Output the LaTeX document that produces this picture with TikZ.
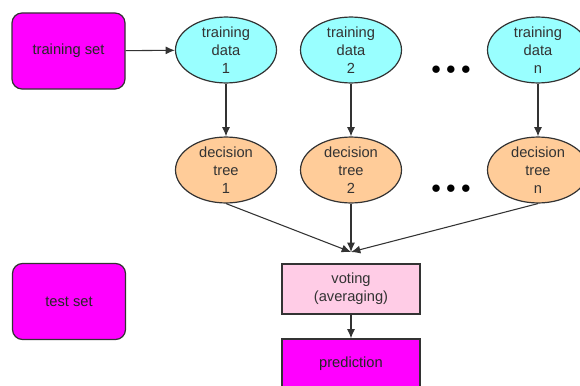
\documentclass[tikz,border=0pt]{standalone}
\usepackage{fontspec}
\setmainfont{Liberation Sans}
\usepackage{tikz}
\usetikzlibrary{shapes}
\usetikzlibrary{arrows.meta}
\usetikzlibrary{positioning}

\definecolor{setmag}{HTML}{FF00FF}
\definecolor{datacyan}{HTML}{99FFFF}
\definecolor{treeorange}{HTML}{FFCC99}
\definecolor{votepink}{HTML}{FFCCE6}
\definecolor{edgegray}{HTML}{333333}

\begin{document}
\begin{tikzpicture}[x=0.75pt,y=-0.75pt,font=\fontsize{11}{13.5}\selectfont]
\tikzstyle{setbox} = [rectangle, draw=edgegray, line width=0.9pt, fill=setmag, rounded corners=7.5pt,
minimum width=84.75pt, minimum height=57pt, inner sep=0pt, text=black!85]
\tikzstyle{datanode} = [ellipse, draw=edgegray, line width=0.9pt, fill=datacyan, minimum width=75.75pt,
minimum height=46.5pt, inner sep=0pt, align=center, text=black!80]
\tikzstyle{treenode} = [ellipse, draw=edgegray, line width=0.9pt, fill=treeorange, minimum width=75.75pt,
minimum height=45.75pt, inner sep=0pt, align=center, text=black!80]
\tikzstyle{votebox} = [rectangle, draw=edgegray, line width=0.9pt, fill=votepink, minimum width=103.5pt,
minimum height=37.5pt, inner sep=0pt, align=center, text=black!80]
\tikzstyle{predbox} = [rectangle, draw=edgegray, line width=0.9pt, fill=setmag, minimum width=103.5pt,
minimum height=37.5pt, inner sep=0pt, text=black!85]
\tikzstyle{dots} = [inner sep=0pt, font=\fontsize{14}{14}\selectfont]
\tikzstyle{line} = [draw=edgegray, line width=0.8pt, -{Latex[length=7pt,width=6pt]}]
\useasboundingbox (0,0) rectangle (580,385);
\begin{scope}
\clip (0,0) rectangle (580,385);
% row 1
\node [setbox] (trainset) at (68.5,51) {training set};
\node [datanode] (data1) at (226,50) {training\\data\\1};
\node [datanode] (data2) at (351,50) {training\\data\\2};
\node [dots] (dotsa) at (451,70) {$\bullet\mkern1mu\bullet\mkern1mu\bullet$};
\node [datanode] (datan) at (538,50) {training\\data\\n};
% row 2
\node [treenode] (tree1) at (226,170) {decision\\tree\\1};
\node [treenode] (tree2) at (351,170) {decision\\tree\\2};
\node [dots] (dotsb) at (451,189) {$\bullet\mkern1mu\bullet\mkern1mu\bullet$};
\node [treenode] (treen) at (538,170) {decision\\tree\\n};
% row 3
\coordinate (join) at (351,252);
\node [setbox] (testset) at (69,301.5) {test set};
\node [votebox] (vote) at (351,289) {voting\\(averaging)};
% row 4
\node [predbox] (pred) at (351,364) {prediction};
\end{scope}
\draw[line] (trainset) -- (data1);
\draw[line] (data1) -- (tree1);
\draw[line] (data2) -- (tree2);
\draw[line] (datan) -- (treen);
\draw[line] (tree1.south) -- (join);
\draw[line] (tree2) -- (join);
\draw[line] (treen.south) -- (join);
\draw[line] (vote) -- (pred);
\end{tikzpicture}
\end{document}
